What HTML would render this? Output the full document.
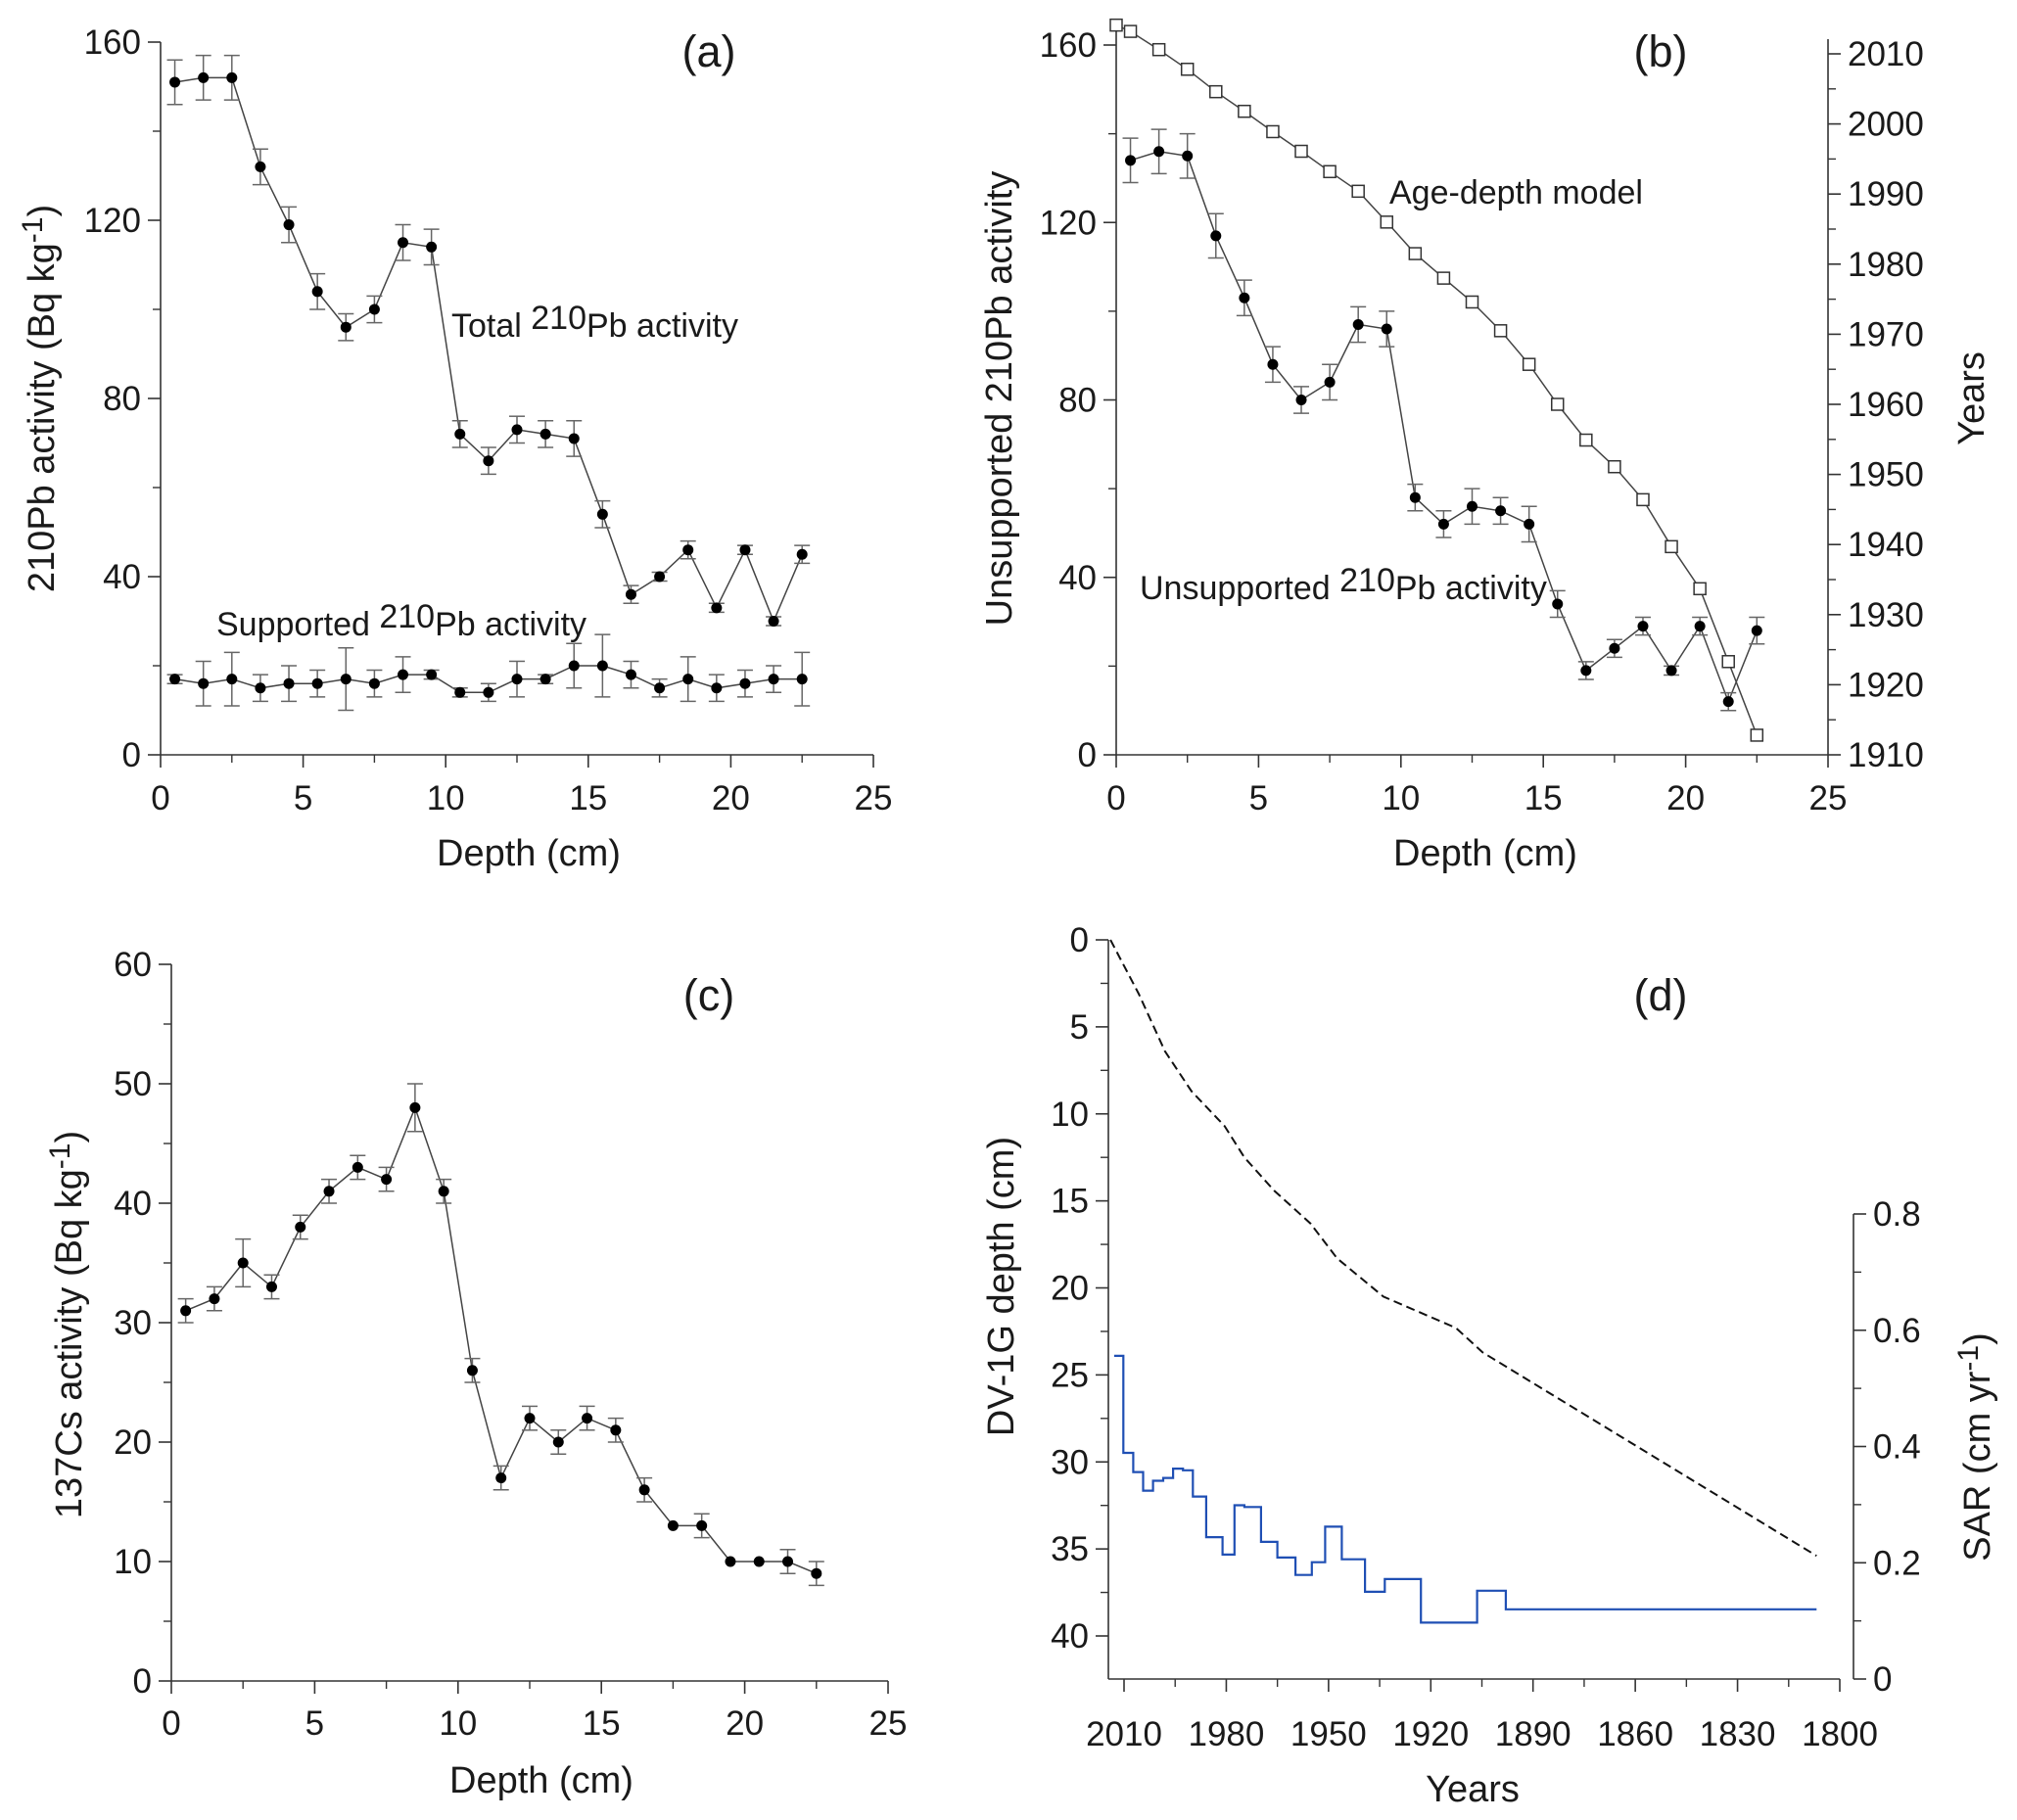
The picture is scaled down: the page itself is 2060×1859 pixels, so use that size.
<!DOCTYPE html>
<html><head><meta charset="utf-8">
<style>
html,body{margin:0;padding:0;background:#fff;}
svg{display:block;font-family:"Liberation Sans",Arial,sans-serif;}
</style></head>
<body>
<svg id="fig" width="2060" height="1859" viewBox="0 0 2060 1859" xmlns="http://www.w3.org/2000/svg"></svg>
<script>
// ---------- data ----------
const depthsA = [0.5,1.5,2.5,3.5,4.5,5.5,6.5,7.5,8.5,9.5,10.5,11.5,12.5,13.5,14.5,15.5,16.5,17.5,18.5,19.5,20.5,21.5,22.5];
const totalPb = [151,152,152,132,119,104,96,100,115,114,72,66,73,72,71,54,36,40,46,33,46,30,45];
const totalPbErr = [5,5,5,4,4,4,3,3,4,4,3,3,3,3,4,3,2,1,2,1,1,1,2];
const supportedPb = [17,16,17,15,16,16,17,16,18,18,14,14,17,17,20,20,18,15,17,15,16,17,17];
const supportedPbErr = [1,5,6,3,4,3,7,3,4,1,1,2,4,1,5,7,3,2,5,3,3,3,6];
const unsupPb = [134,136,135,117,103,88,80,84,97,96,58,52,56,55,52,34,19,24,29,19,29,12,28];
const unsupPbErr = [5,5,5,5,4,4,3,4,4,4,3,3,4,3,4,3,2,2,2,1,2,2,3];
const ageDepths = [0,0.5,1.5,2.5,3.5,4.5,5.5,6.5,7.5,8.5,9.5,10.5,11.5,12.5,13.5,14.5,15.5,16.5,17.5,18.5,19.5,20.5,21.5,22.5];
const ageYears = [2014.1,2013.2,2010.6,2007.8,2004.6,2001.8,1998.9,1996.1,1993.2,1990.4,1986,1981.5,1978,1974.6,1970.5,1965.7,1960,1954.9,1951.1,1946.4,1939.7,1933.7,1923.3,1912.8];
const cs137 = [31,32,35,33,38,41,43,42,48,41,26,17,22,20,22,21,16,13,13,10,10,10,9];
const cs137Err = [1,1,2,1,1,1,1,1,2,1,1,1,1,1,1,1,1,0,1,0,0,1,1];
const modelYears = [2014,2005.7,1998,1990.2,1980.5,1974.7,1966,1955.3,1947.5,1933.9,1912.6,1904.8,1806.8];
const modelDepths = [0,3.1,6.4,8.7,10.7,12.5,14.4,16.3,18.3,20.5,22.3,23.7,35.4];
const sarBreakYears = [2012.9,2010.2,2007.3,2004.4,2001.5,1998.5,1995.6,1992.7,1989.8,1985.9,1981.1,1977.6,1974.7,1969.8,1965,1959.7,1954.9,1951,1946.1,1939.3,1933.5,1922.9,1906.4,1898,1806.8];
const sarValues = [0.556,0.389,0.356,0.324,0.341,0.346,0.362,0.359,0.314,0.244,0.214,0.299,0.296,0.236,0.209,0.179,0.201,0.262,0.206,0.150,0.172,0.097,0.152,0.120];
const depthTicks = [0,5,10,15,20,25];
const pbTicks = [0,40,80,120,160];
const yearTicksB = [1910,1920,1930,1940,1950,1960,1970,1980,1990,2000,2010];
const csTicks = [0,10,20,30,40,50,60];
const coreDepthTicks = [0,5,10,15,20,25,30,35,40];
const yearTicksD = [2010,1980,1950,1920,1890,1860,1830,1800];
const sarTicks = [0,0.2,0.4,0.6,0.8];

const NS = "http://www.w3.org/2000/svg";
const svg = document.getElementById('fig');
function mk(tag, attrs, parent){
  const e = document.createElementNS(NS, tag);
  for (const k in attrs) e.setAttribute(k, attrs[k]);
  (parent||svg).appendChild(e);
  return e;
}
function lin(d0,d1,r0,r1){return v => r0 + (v-d0)*(r1-r0)/(d1-d0);}
const AX = '#333';

function text(str, x, y, size, anchor, parent, name){
  const t = mk('text',{x:x,y:y,'font-size':size,'text-anchor':anchor||'middle',fill:'#1a1a1a'},parent);
  t.textContent = str;
  
  
  return t;
}
function richText(parts, x, y, size, anchor, rotate, parent, name){
  const t = mk('text',{x:x,y:y,'font-size':size,'text-anchor':anchor||'start',fill:'#1a1a1a'},parent);
  if (rotate) t.setAttribute('transform', `rotate(-90 ${x} ${y})`);
  parts.forEach(p=>{
    const s = mk('tspan',{},t);
    if (p.sup){ s.setAttribute('dy', -p.sup); }
    if (p.down){ s.setAttribute('dy', p.down); }
    if (p.size) s.setAttribute('font-size', p.size);
    s.textContent = p.t;
  });
  
  
  return t;
}
function xAxis(g, sx, y, x0, x1, ticks, minor, labelY, fmt, name){
  const a = mk('g',{},g);
  
  
  mk('line',{x1:x0,y1:y,x2:x1,y2:y,stroke:AX,'stroke-width':1.6},a);
  minor.forEach(v=>mk('line',{x1:sx(v),y1:y,x2:sx(v),y2:y+8,stroke:AX,'stroke-width':1.4},a));
  ticks.forEach(v=>{
    mk('line',{x1:sx(v),y1:y,x2:sx(v),y2:y+13,stroke:AX,'stroke-width':1.6},a);
    text(fmt?fmt(v):String(v), sx(v), labelY, 35, 'middle', a, 'x-tick-label');
  });
}
function yAxis(g, sy, x, y0, y1, ticks, minor, side, fmt, name){
  const a = mk('g',{},g);
  
  
  mk('line',{x1:x,y1:y0,x2:x,y2:y1,stroke:AX,'stroke-width':1.6},a);
  const d = side==='left'?-1:1;
  minor.forEach(v=>mk('line',{x1:x,y1:sy(v),x2:x+d*8,y2:sy(v),stroke:AX,'stroke-width':1.4},a));
  ticks.forEach(v=>{
    mk('line',{x1:x,y1:sy(v),x2:x+d*13,y2:sy(v),stroke:AX,'stroke-width':1.6},a);
    text(fmt?fmt(v):String(v), x+d*20, sy(v)+12, 35, side==='left'?'end':'start', a, 'y-tick-label');
  });
}
function range(a,b,s){const r=[];for(let v=a;v<=b+1e-9;v+=s)r.push(+v.toFixed(4));return r;}
function series(g, xs, ys, errs, sx, sy, name, marker){
  const s = mk('g',{},g);
  
  
  const pts = xs.map((x,i)=>sx(x).toFixed(1)+','+sy(ys[i]).toFixed(1)).join(' ');
  mk('polyline',{points:pts,fill:'none',stroke:'#444','stroke-width':1.5},s);
  if (errs) xs.forEach((x,i)=>{
    if (!errs[i]) return;
    const X=sx(x), a=sy(ys[i]-errs[i]), b=sy(ys[i]+errs[i]);
    mk('line',{x1:X,y1:a,x2:X,y2:b,stroke:'#666','stroke-width':1.5},s);
    mk('line',{x1:X-8,y1:a,x2:X+8,y2:a,stroke:'#666','stroke-width':1.5},s);
    mk('line',{x1:X-8,y1:b,x2:X+8,y2:b,stroke:'#666','stroke-width':1.5},s);
  });
  xs.forEach((x,i)=>{
    let m;
    if (marker==='square') m = mk('rect',{x:sx(x)-6,y:sy(ys[i])-6,width:12,height:12,fill:'#fff',stroke:'#333','stroke-width':1.5},s);
    else m = mk('circle',{cx:sx(x),cy:sy(ys[i]),r:5.5,fill:'#000'},s);
    
    
  });
}

// ---------- panel (a) ----------
(function(){
  const g = mk('g',{});  
  const sx = lin(0,25,164,892), sy = lin(0,160,771,43);
  xAxis(g, sx, 771, 164, 892, depthTicks, range(2.5,22.5,5), 827, null, 'x-axis-a');
  yAxis(g, sy, 164, 771, 43, pbTicks, range(20,140,40), 'left', null, 'y-axis-a');
  series(g, depthsA, totalPb, totalPbErr, sx, sy, 'total-pb-series');
  series(g, depthsA, supportedPb, supportedPbErr, sx, sy, 'supported-pb-series');
  text('(a)', 724, 68, 45, 'middle', g, 'panel-label-a');
  richText([{t:'Total '},{t:'210',sup:8},{t:'Pb activity',down:8}], 461, 344, 34, 'start', false, g, 'total-pb-annotation');
  richText([{t:'Supported '},{t:'210',sup:8},{t:'Pb activity',down:8}], 221, 649, 34, 'start', false, g, 'supported-pb-annotation');
  richText([{t:'210Pb activity (Bq kg'},{t:'-1',sup:12,size:30},{t:')',down:12}], 55, 407, 38, 'middle', true, g, 'y-axis-title-a');
  text('Depth (cm)', 540, 884, 38, 'middle', g, 'x-axis-title-a');
})();

// ---------- panel (b) ----------
(function(){
  const g = mk('g',{});  
  const sx = lin(0,25,1140,1867), sy = lin(0,160,771,46), syr = lin(1910,2010,771,55);
  xAxis(g, sx, 771, 1140, 1867, depthTicks, range(2.5,22.5,5), 827, null, 'x-axis-b');
  yAxis(g, sy, 1140, 771, 22, pbTicks, range(20,140,40), 'left', null, 'y-axis-left-b');
  yAxis(g, syr, 1867, 771, 40, yearTicksB, range(1915,2005,10), 'right', null, 'y-axis-right-b');
  series(g, ageDepths, ageYears, null, sx, syr, 'age-depth-model-series', 'square');
  series(g, depthsA, unsupPb, unsupPbErr, sx, sy, 'unsupported-pb-series');
  text('(b)', 1696, 68, 45, 'middle', g, 'panel-label-b');
  text('Age-depth model', 1419, 208, 34, 'start', g, 'age-depth-annotation');
  richText([{t:'Unsupported '},{t:'210',sup:8},{t:'Pb activity',down:8}], 1164, 612, 34, 'start', false, g, 'unsupported-pb-annotation');
  richText([{t:'Unsupported 210Pb activity'}], 1033, 407, 38, 'middle', true, g, 'y-axis-title-b');
  richText([{t:'Years'}], 2026, 407, 38, 'middle', true, g, 'y-axis-right-title-b');
  text('Depth (cm)', 1517, 884, 38, 'middle', g, 'x-axis-title-b');
})();

// ---------- panel (c) ----------
(function(){
  const g = mk('g',{});  
  const sx = lin(0,25,175,907), sy = lin(0,60,1717,985);
  xAxis(g, sx, 1717, 175, 907, depthTicks, range(2.5,22.5,2.5).filter(v=>v%5), 1772, null, 'x-axis-c');
  yAxis(g, sy, 175, 1717, 985, csTicks, range(5,55,10), 'left', null, 'y-axis-c');
  series(g, depthsA, cs137, cs137Err, sx, sy, 'cs137-series');
  text('(c)', 724, 1032, 45, 'middle', g, 'panel-label-c');
  richText([{t:'137Cs activity (Bq kg'},{t:'-1',sup:12,size:30},{t:')',down:12}], 83, 1353, 38, 'middle', true, g, 'y-axis-title-c');
  text('Depth (cm)', 553, 1831, 38, 'middle', g, 'x-axis-title-c');
})();

// ---------- panel (d) ----------
(function(){
  const g = mk('g',{});  
  const sx = lin(2010,1800,1148,1879), sy = lin(0,40,960,1671), ss = lin(0,0.8,1715,1240);
  xAxis(g, sx, 1715, 1132, 1879, yearTicksD, range(1815,1995,30), 1783, null, 'x-axis-d');
  yAxis(g, sy, 1132, 960, 1715, coreDepthTicks, range(2.5,37.5,5), 'left', null, 'y-axis-left-d');
  yAxis(g, ss, 1893, 1715, 1240, sarTicks, range(0.1,0.7,0.2), 'right', v=>v===0?'0':v.toFixed(1), 'y-axis-right-d');
  const model = mk('polyline',{points:modelYears.map((y,i)=>sx(y).toFixed(1)+','+sy(modelDepths[i]).toFixed(1)).join(' '),fill:'none',stroke:'#111','stroke-width':2,'stroke-dasharray':'9,5'},g);
  
  
  let p = '';
  sarValues.forEach((v,i)=>{
    const x0=sx(sarBreakYears[i]).toFixed(1), x1=sx(sarBreakYears[i+1]).toFixed(1), y=ss(v).toFixed(1);
    p += (i===0?'M':'L')+x0+','+y+' L'+x1+','+y+' ';
  });
  const sar = mk('path',{d:p,fill:'none',stroke:'#1f4fb4','stroke-width':2.2},g);
  
  
  text('(d)', 1696, 1032, 45, 'middle', g, 'panel-label-d');
  richText([{t:'DV-1G depth (cm)'}], 1035, 1314, 38, 'middle', true, g, 'y-axis-title-d');
  richText([{t:'SAR (cm yr'},{t:'-1',sup:12,size:30},{t:')',down:12}], 2032, 1478, 38, 'middle', true, g, 'y-axis-right-title-d');
  text('Years', 1504, 1840, 38, 'middle', g, 'x-axis-title-d');
})();
</script>
</body></html>
